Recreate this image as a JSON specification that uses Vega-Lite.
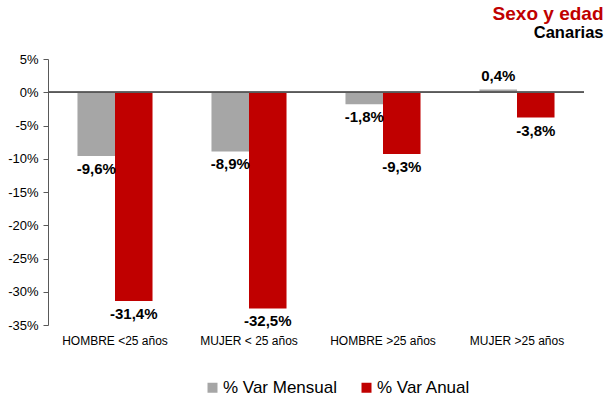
{
  "$schema": "https://vega.github.io/schema/vega-lite/v6.json",
  "autosize": "none",
  "width": 536,
  "height": 266,
  "padding": {"left": 48, "top": 59, "right": 26, "bottom": 82},
  "background": "white",
  "config": {
    "font": "Liberation Sans",
    "view": {"stroke": null},
    "axis": {"labelOverlap": false},
    "locale": {
      "number": {"decimal": ",", "thousands": ".", "grouping": [3], "currency": ["", " €"], "minus": "-", "percent": "%"}
    }
  },
  "title": {
    "text": "Sexo y edad",
    "subtitle": "Canarias",
    "anchor": "end",
    "dx": 19,
    "offset": 12,
    "font": "Liberation Sans",
    "fontSize": 19,
    "fontWeight": "bold",
    "color": "#C00000",
    "subtitleFont": "Liberation Sans",
    "subtitleFontSize": 16.5,
    "subtitleFontWeight": "bold",
    "subtitleColor": "#000000",
    "subtitlePadding": 1
  },
  "data": {
    "values": [
      {"grupo": "HOMBRE <25 años", "serie": "% Var Mensual", "valor": -0.096},
      {"grupo": "HOMBRE <25 años", "serie": "% Var Anual", "valor": -0.314},
      {"grupo": "MUJER < 25 años", "serie": "% Var Mensual", "valor": -0.089},
      {"grupo": "MUJER < 25 años", "serie": "% Var Anual", "valor": -0.325},
      {"grupo": "HOMBRE >25 años", "serie": "% Var Mensual", "valor": -0.018},
      {"grupo": "HOMBRE >25 años", "serie": "% Var Anual", "valor": -0.093},
      {"grupo": "MUJER >25 años", "serie": "% Var Mensual", "valor": 0.004},
      {"grupo": "MUJER >25 años", "serie": "% Var Anual", "valor": -0.038}
    ]
  },
  "encoding": {
    "x": {
      "field": "grupo",
      "type": "nominal",
      "sort": null,
      "scale": {"paddingInner": 0.44, "paddingOuter": 0.22},
      "axis": {
        "title": null,
        "domain": false,
        "ticks": false,
        "labelAngle": 0,
        "labelFontSize": 12,
        "labelColor": "#000000",
        "labelPadding": 10
      }
    },
    "xOffset": {
      "field": "serie",
      "type": "nominal",
      "sort": ["% Var Mensual", "% Var Anual"],
      "scale": {"paddingInner": 0, "paddingOuter": 0}
    },
    "y": {
      "field": "valor",
      "type": "quantitative",
      "scale": {"domain": [-0.35, 0.05], "nice": false, "zero": false},
      "axis": {
        "title": null,
        "values": [-0.35, -0.3, -0.25, -0.2, -0.15, -0.1, -0.05, 0, 0.05],
        "format": ".0%",
        "grid": false,
        "labelOverlap": false,
        "domainColor": "#595959",
        "tickColor": "#595959",
        "tickSize": 5,
        "labelFontSize": 13,
        "labelColor": "#000000",
        "labelPadding": 5
      }
    }
  },
  "layer": [
    {
      "mark": {"type": "bar"},
      "encoding": {
        "color": {
          "field": "serie",
          "type": "nominal",
          "sort": ["% Var Mensual", "% Var Anual"],
          "scale": {"domain": ["% Var Mensual", "% Var Anual"], "range": ["#A6A6A6", "#C00000"]},
          "legend": {
            "title": null,
            "orient": "none",
            "direction": "horizontal",
            "legendX": 156,
            "legendY": 320,
            "symbolType": "square",
            "symbolSize": 100,
            "symbolStrokeWidth": 0,
            "labelFontSize": 17,
            "labelColor": "#000000",
            "labelOffset": 2,
            "columnPadding": 20
          }
        }
      }
    },
    {
      "mark": {"type": "rule", "color": "#595959", "strokeWidth": 1},
      "encoding": {"y": {"datum": 0}, "x": {"value": 0}, "x2": {"value": 536}, "xOffset": null}
    },
    {
      "transform": [{"filter": "datum.valor < 0"}],
      "mark": {"type": "text", "baseline": "top", "dy": 6, "fontSize": 15, "fontWeight": "bold", "color": "#000000"},
      "encoding": {
        "text": {"field": "valor", "type": "quantitative", "format": ".1%"}
      }
    },
    {
      "transform": [{"filter": "datum.valor >= 0"}],
      "mark": {"type": "text", "baseline": "bottom", "dy": -6, "fontSize": 15, "fontWeight": "bold", "color": "#000000"},
      "encoding": {
        "text": {"field": "valor", "type": "quantitative", "format": ".1%"}
      }
    }
  ]
}
